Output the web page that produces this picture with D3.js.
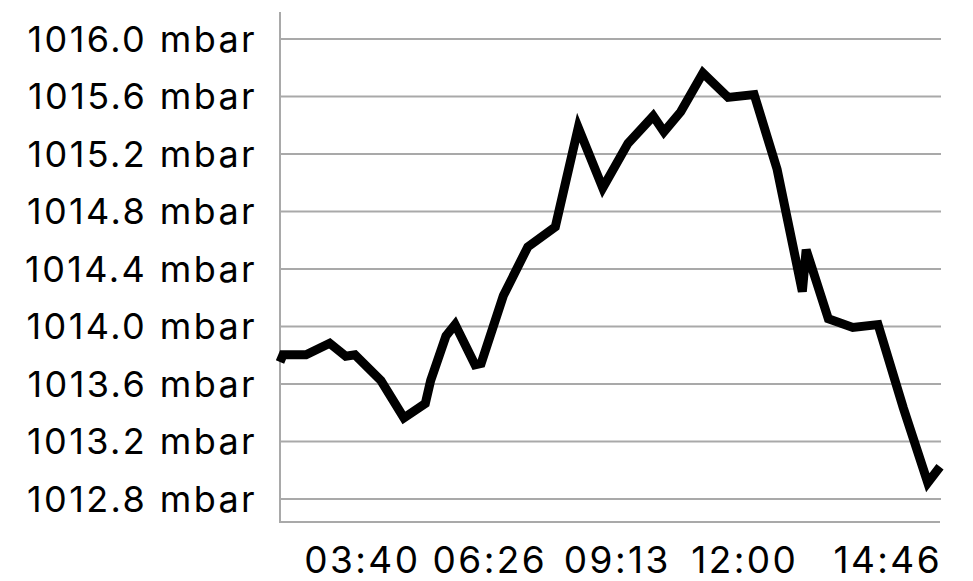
<!DOCTYPE html>
<html>
<head>
<meta charset="utf-8">
<script src="https://cdn.jsdelivr.net/npm/d3@7"></script>
<style>
  html, body { margin: 0; padding: 0; background: #ffffff; }
  svg { display: block; }
  text { font-family: "Inter", "Liberation Sans", sans-serif; fill: #000; }
</style>
</head>
<body>
<svg id="chart" width="973" height="581"></svg>
<script>
// Sample times (minutes since midnight)
const times = [113, 117, 147, 178, 199, 211, 245, 275, 303, 310, 330, 342, 368, 376,
  405, 437, 473, 503, 535, 568, 601, 615, 637, 666, 699, 733, 763, 796, 801, 830,
  862, 895, 928, 960, 976];
// Pressure (mbar)
const pressures = [1013.75, 1013.80, 1013.80, 1013.88, 1013.79, 1013.80, 1013.62, 1013.36,
  1013.46, 1013.62, 1013.93, 1014.01, 1013.73, 1013.74, 1014.21, 1014.55, 1014.69,
  1015.38, 1014.96, 1015.27, 1015.46, 1015.35, 1015.49, 1015.76, 1015.59, 1015.61,
  1015.09, 1014.24, 1014.53, 1014.05, 1013.99, 1014.01, 1013.43, 1012.91, 1013.02];
// Y tick values
const yTicks = [1012.8, 1013.2, 1013.6, 1014.0, 1014.4, 1014.8, 1015.2, 1015.6, 1016.0];
// X tick values (minutes) and labels
const xTickValues = [220, 386.67, 553.33, 720, 886.67];
const xTickLabels = ["03:40", "06:26", "09:13", "12:00", "14:46"];

(function () {
const data = times.map((t, i) => ({ t, v: pressures[i] }));

const svg = d3.select("#chart");
const mLeft = 280, mRight = 940, mTop = 12, mBottom = 522;

const x = d3.scaleLinear().domain([113, 976]).range([mLeft, mRight]);
const y = d3.scaleLinear().domain([1012.6364, 1016.184]).range([mBottom, mTop]);

const gridColor = "#a9a9a9";

// Y axis with gridlines
const yAxis = d3.axisLeft(y)
  .tickValues(yTicks)
  .tickSize(-(mRight - mLeft + 1))
  .tickPadding(23)
  .tickFormat(d => d.toFixed(1) + " mbar");

const gy = svg.append("g").attr("transform", `translate(${mLeft},0)`).call(yAxis);
gy.select(".domain").remove();
gy.selectAll(".tick line").attr("stroke", gridColor).attr("stroke-width", 2);
gy.selectAll(".tick text")
  .attr("font-size", 36)
  .attr("dy", "0.36em")
  .style("letter-spacing", "2.4px");

// axis frame lines
svg.append("line").attr("x1", mLeft).attr("x2", mLeft).attr("y1", mTop).attr("y2", mBottom + 1)
  .attr("stroke", gridColor).attr("stroke-width", 2);
svg.append("line").attr("x1", mLeft - 1).attr("x2", mRight).attr("y1", mBottom).attr("y2", mBottom)
  .attr("stroke", gridColor).attr("stroke-width", 2);

// X axis labels
const xAxis = d3.axisBottom(x)
  .tickValues(xTickValues)
  .tickSize(0)
  .tickPadding(25)
  .tickFormat((d, i) => xTickLabels[i]);
const gx = svg.append("g").attr("transform", `translate(0,${mBottom})`).call(xAxis);
gx.select(".domain").remove();
gx.selectAll(".tick text")
  .attr("font-size", 37)
  .attr("dy", "0.71em")
  .style("letter-spacing", "2.4px");
// last label is trailing-aligned to the plot edge
const ticks = gx.selectAll(".tick").nodes();
const lastTick = d3.select(ticks[ticks.length - 1]);
const tx = +lastTick.attr("transform").match(/translate\(([-\d.]+)/)[1];
lastTick.select("text").attr("text-anchor", "end").attr("x", mRight - tx + 2);

// Line
const line = d3.line().x(d => x(d.t)).y(d => y(d.v));
svg.append("path")
  .datum(data)
  .attr("fill", "none")
  .attr("stroke", "#000")
  .attr("stroke-width", 9)
  .attr("stroke-linejoin", "miter")
  .attr("stroke-linecap", "butt")
  .attr("d", line);
})();
</script>
</body>
</html>
